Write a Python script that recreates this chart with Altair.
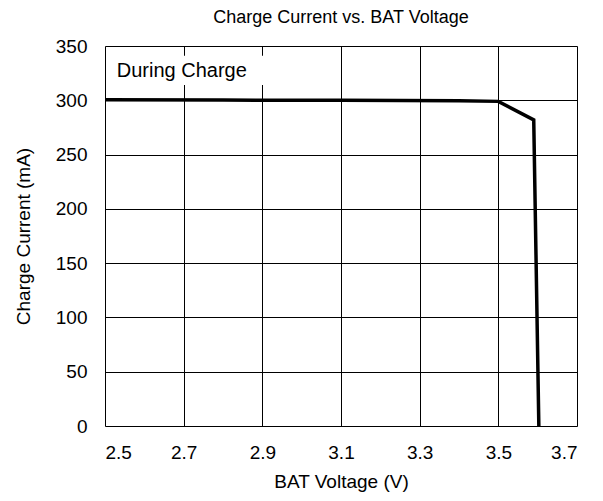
import altair as alt
import pandas as pd

voltage = [2.5, 2.8, 3.1, 3.4, 3.5, 3.59, 3.603]
current = [300.5, 300.2, 300.0, 299.5, 299.0, 282.0, 0.0]
x_ticks = [2.5, 2.7, 2.9, 3.1, 3.3, 3.5, 3.7]
y_ticks = [0, 50, 100, 150, 200, 250, 300, 350]
label_text = ["During Charge"]

df = pd.DataFrame({"v": voltage, "i": current, "k": list(range(len(voltage)))})
lab = pd.DataFrame({"t": label_text, "x": [2.53], "y": [327.0],
                    "x0": [2.505], "x1": [2.95], "y0": [314.0], "y1": [341.0]})

FONT = "Liberation Sans"

xs = alt.Scale(domain=[2.5, 3.7], nice=False, zero=False)
ys = alt.Scale(domain=[0, 350], nice=False)

xax = alt.Axis(values=x_ticks, format=".1f", title="BAT Voltage (V)", ticks=False,
               labelPadding=17, labelFontSize=19, labelFont=FONT, labelColor="black",
               titleFontSize=19, titleFont=FONT, titleFontWeight="normal", titleColor="black",
               titleX=236, titleY=55, titleBaseline="middle", titleAlign="center",
               grid=True, gridColor="black", gridWidth=1, domain=False)
yax = alt.Axis(values=y_ticks, title="Charge Current (mA)", ticks=False,
               labelPadding=18, labelFontSize=19, labelFont=FONT, labelColor="black",
               titleFontSize=19, titleFont=FONT, titleFontWeight="normal", titleColor="black",
               titleX=-82, titleY=190, titleBaseline="middle", titleAlign="center", titleAngle=-90,
               grid=True, gridColor="black", gridWidth=1, domain=False)

line = alt.Chart(df).mark_line(color="black", strokeWidth=3.5, strokeJoin="miter", clip=True).encode(
    x=alt.X("v:Q", scale=xs, axis=xax),
    y=alt.Y("i:Q", scale=ys, axis=yax),
    order="k:O",
)

box = alt.Chart(lab).mark_rect(color="white").encode(
    x=alt.X("x0:Q", scale=xs), x2="x1", y=alt.Y("y0:Q", scale=ys), y2="y1"
)

txt = alt.Chart(lab).mark_text(align="left", baseline="middle", fontSize=20, font=FONT,
                               color="black").encode(
    x=alt.X("x:Q", scale=xs), y=alt.Y("y:Q", scale=ys), text="t:N"
)

chart = alt.layer(box, txt, line).properties(
    width=472, height=380,
    title=alt.TitleParams("Charge Current vs. BAT Voltage", fontSize=18, font=FONT,
                          fontWeight="normal", color="black", anchor="middle", offset=10),
    autosize=alt.AutoSizeParams(type="none"),
    padding={"left": 97, "top": 38, "right": 18, "bottom": 67},
).configure_view(stroke="black", strokeWidth=2.5).configure(background="white")

chart.save("out.html", embed_options={"renderer": "svg", "actions": False})
